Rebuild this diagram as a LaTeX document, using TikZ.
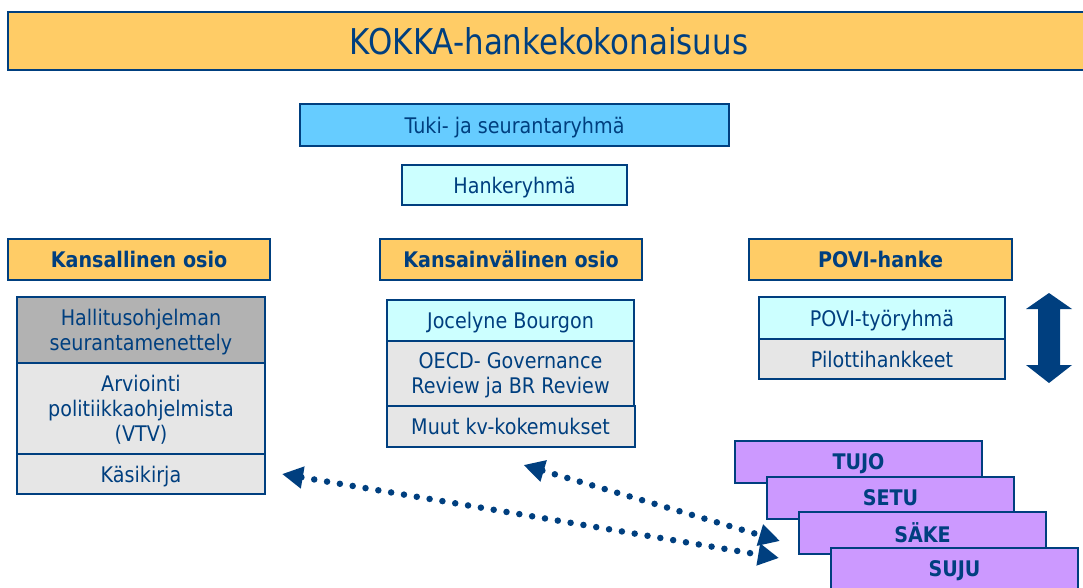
\documentclass[tikz,border=0pt]{standalone}
\usepackage{fontspec}
\setmainfont[FakeStretch=0.89]{DejaVu Sans}
\newfontfamily\titlefont[FakeStretch=0.87]{DejaVu Sans}
\usepackage{xcolor}
\usetikzlibrary{positioning,calc,arrows.meta}
\definecolor{kblue}{HTML}{003F7F}
\definecolor{korange}{HTML}{FFCC66}
\definecolor{ksky}{HTML}{66CCFF}
\definecolor{kcyan}{HTML}{CCFFFF}
\definecolor{kgray}{HTML}{B2B2B2}
\definecolor{klight}{HTML}{E6E6E6}
\definecolor{kpurple}{HTML}{CC99FF}

\begin{document}
\begin{tikzpicture}[x=1pt, y=-1pt,
    box/.style={draw=kblue, line width=2pt, text=kblue, inner sep=0pt, outer sep=0pt, text depth=0pt,
        align=center, font=\fontsize{21.5}{25}\selectfont},
    head/.style={box, fill=korange, minimum height=41pt, font=\fontsize{21.5}{25}\selectfont\bfseries},
    team/.style={head, fill=kpurple, minimum width=247pt, minimum height=42pt},
    link/.style={kblue, line width=6.5pt, line cap=round, dash pattern=on 0pt off 13pt,
        {Triangle[length=21pt,width=21pt]}-{Triangle[length=21pt,width=21pt]}}]
    \useasboundingbox (0,0) rectangle (1083,588);

    \node[box, fill=korange, line width=2.5pt, minimum width=1082pt, minimum height=58pt,
        font=\titlefont\fontsize{35.5}{40}\selectfont] (kokka) at (549,41) {KOKKA-hankekokonaisuus};

    \node[box, fill=ksky, minimum width=429pt, minimum height=42pt] (tuki) at (514.5,125) {Tuki- ja seurantaryhmä};
    \node[box, fill=kcyan, minimum width=225pt, minimum height=40pt] (hanke) at (514.5,185) {Hankeryhmä};

    \node[head, minimum width=262pt] (kansallinen) at (139,259.5) {Kansallinen osio};
    \node[head, minimum width=262pt] (kv) at (511,259.5) {Kansainvälinen osio};
    \node[head, minimum width=263pt] (povi) at (880.5,259.5) {POVI-hanke};

    % kansallinen osio
    \node[box, fill=kgray, minimum width=248pt, minimum height=66pt] (hallitus) at (141,330) {Hallitusohjelman\\seurantamenettely};
    \node[box, fill=klight, minimum width=248pt, minimum height=91pt, below=0pt of hallitus] (arviointi) {Arviointi\\politiikkaohjelmista\\(VTV)};
    \node[box, fill=klight, minimum width=248pt, minimum height=40pt, below=0pt of arviointi] (kasikirja) {Käsikirja};

    % kansainvälinen osio
    \node[box, fill=kcyan, minimum width=247pt, minimum height=41pt] (bourgon) at (510.5,320.5) {Jocelyne Bourgon};
    \node[box, fill=klight, minimum width=247pt, minimum height=65pt, below=0pt of bourgon] (oecd) {OECD- Governance\\Review ja BR Review};
    \node[box, fill=klight, minimum width=248pt, minimum height=41pt, below=0pt of oecd] (muut) {Muut kv-kokemukset};

    % POVI
    \node[box, fill=kcyan, minimum width=246pt, minimum height=42pt] (tyoryhma) at (882,318) {POVI-työryhmä};
    \node[box, fill=klight, minimum width=246pt, minimum height=40pt, below=0pt of tyoryhma] (pilotti) {Pilottihankkeet};

    \fill[kblue] (1049,293) -- (1072,309) -- (1060,309) -- (1060,365) -- (1072,365) -- (1049,383)
        -- (1026,365) -- (1038,365) -- (1038,309) -- (1026,309) -- cycle;

    \node[team] (tujo) at (858.5,462) {TUJO};
    \node[team] (setu) at ($(tujo)+(32,35.5)$) {SETU};
    \node[team] (sake) at ($(setu)+(32,35.5)$) {SÄKE};
    \node[team] (suju) at ($(sake)+(32,35.5)$) {SUJU};

    \draw[link] ([xshift=17pt]kasikirja.east) -- ($(sake.south west)+(-20,4)$);
    \draw[link] ($(muut.south)+(13,18)$) -- ($(sake.west)+(-19,8)$);
\end{tikzpicture}
\end{document}
